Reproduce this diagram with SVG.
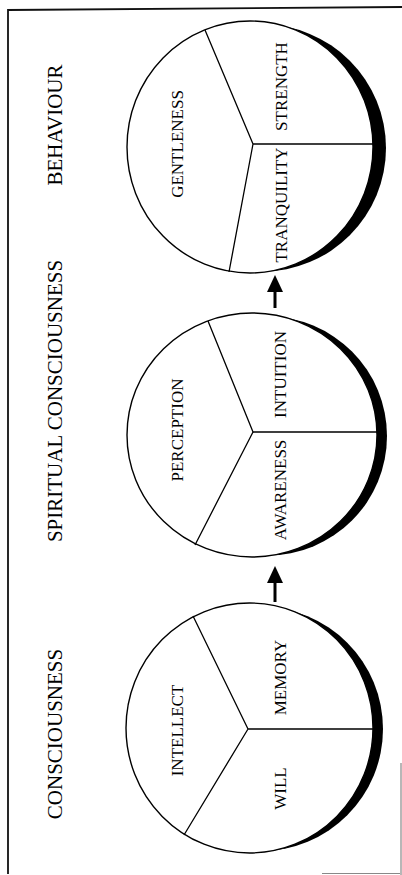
<svg xmlns="http://www.w3.org/2000/svg" width="402" height="875" viewBox="0 0 402 875">
<defs>
<style>
.bg{fill:#fff}
.frame{stroke:#111;stroke-width:1.8;fill:none}
.scan{stroke:#888;stroke-width:1.2;fill:none}
.disc{fill:#fff;stroke:#000;stroke-width:1.4}
.shadow{fill:#000}
.spoke{stroke:#000;stroke-width:1.3;fill:none}
.shaft{stroke:#000;stroke-width:3;fill:none}
.title{font-family:"Liberation Serif","Times New Roman",serif;font-size:21px;fill:#000;text-anchor:middle}
.lab{font-family:"Liberation Serif","Times New Roman",serif;font-size:17px;fill:#000;text-anchor:middle}
</style>
<marker id="head" viewBox="0 0 17 16" refX="0" refY="8" markerWidth="17" markerHeight="16" markerUnits="userSpaceOnUse" orient="auto">
<path d="M0,0 L17,8 L0,16 Z" fill="#000"/>
</marker>
</defs>
<rect class="bg" x="0" y="0" width="402" height="875"/>
<g id="frame">
<path class="frame" d="M8,874 L8,10 L402,7"/>
<path class="scan" d="M401,763 L401,875 M322,873.5 L400,873.5"/>
</g>
<g id="title-behaviour"><text class="title" transform="translate(62,125) rotate(-90)">BEHAVIOUR</text></g>
<g id="title-spiritual"><text class="title" transform="translate(62,401) rotate(-90)">SPIRITUAL CONSCIOUSNESS</text></g>
<g id="title-consciousness"><text class="title" transform="translate(62,734) rotate(-90)">CONSCIOUSNESS</text></g>

<g id="node-behaviour">
<circle class="shadow" cx="262.5" cy="148" r="123.5"/>
<ellipse class="disc" cx="250" cy="147" rx="123" ry="126"/>
<path class="spoke" d="M253,144 L373,144 M253,144 L205,30 M253,144 L229,272"/>
<text class="lab" transform="translate(183,144) rotate(-90)">GENTLENESS</text>
<text class="lab" transform="translate(287,86.5) rotate(-90)">STRENGTH</text>
<text class="lab" transform="translate(287,205) rotate(-90)">TRANQUILITY</text>
</g>

<g id="node-spiritual">
<circle class="shadow" cx="267.5" cy="436" r="119.5"/>
<ellipse class="disc" cx="252" cy="435" rx="125" ry="122"/>
<path class="spoke" d="M253,432 L377,432 M253,432 L208,321 M253,432 L195,545"/>
<text class="lab" transform="translate(183,430) rotate(-90)">PERCEPTION</text>
<text class="lab" transform="translate(286,374.5) rotate(-90)">INTUITION</text>
<text class="lab" transform="translate(286,490) rotate(-90)">AWARENESS</text>
</g>

<g id="node-consciousness">
<circle class="shadow" cx="261" cy="729" r="122"/>
<ellipse class="disc" cx="249.5" cy="728" rx="123.5" ry="125"/>
<path class="spoke" d="M248,729 L373,729 M248,729 L193,616 M248,729 L184,835"/>
<text class="lab" transform="translate(183,730.5) rotate(-90)">INTELLECT</text>
<text class="lab" transform="translate(286,677.5) rotate(-90)">MEMORY</text>
<text class="lab" transform="translate(286,788.5) rotate(-90)">WILL</text>
</g>

<g id="connectors">
<path class="shaft" d="M275,602 L275,583" marker-end="url(#head)"/>
<path class="shaft" d="M275,308 L275,292" marker-end="url(#head)"/>
</g>
</svg>
